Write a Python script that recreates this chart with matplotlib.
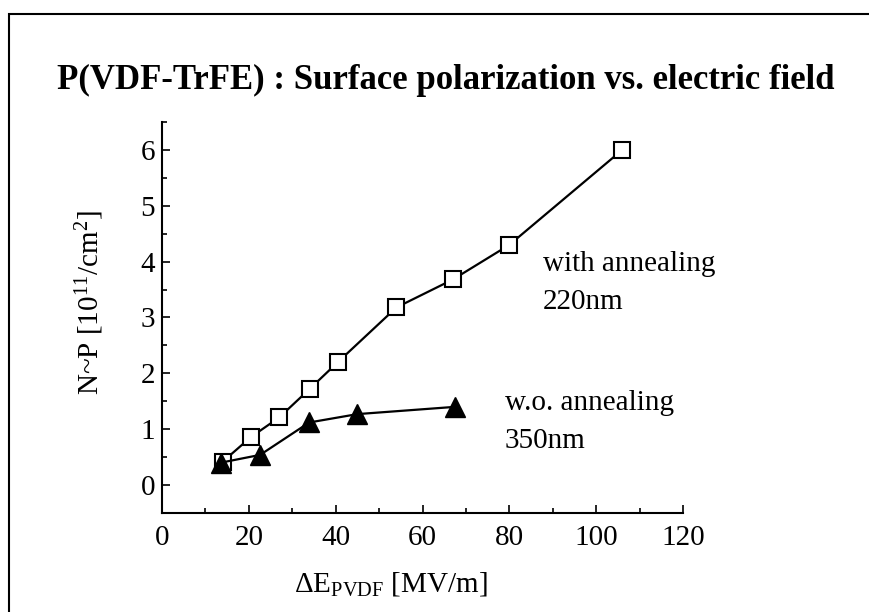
import matplotlib
matplotlib.use("Agg")
import matplotlib.pyplot as plt
from matplotlib.patches import Rectangle
from matplotlib.ticker import MultipleLocator

plt.rcParams["font.family"] = ["Liberation Serif", "DejaVu Serif"]
plt.rcParams["mathtext.fontset"] = "custom"
plt.rcParams["mathtext.rm"] = "Liberation Serif"
plt.rcParams["mathtext.it"] = "Liberation Serif:italic"

# with annealing, 220nm (open squares)
e_ann = [14, 20.5, 27, 34, 40.5, 54, 67, 80, 106]
p_ann = [0.42, 0.86, 1.21, 1.72, 2.2, 3.18, 3.68, 4.3, 6.0]

# w.o. annealing, 350nm (filled triangles)
e_noann = [13.5, 22.6, 33.9, 45, 67.5]
p_noann = [0.4, 0.54, 1.12, 1.27, 1.4]

fig = plt.figure(figsize=(8.69, 6.12), dpi=100)
ax = fig.add_axes([0.1864, 0.1618, 0.5996, 0.6389])

ax.plot(e_ann, p_ann, color="black", lw=1.6, marker="s", ms=12,
        mfc="white", mec="black", mew=1.5, zorder=3)
ax.plot(e_noann, p_noann, color="black", lw=1.6, marker="^", ms=14,
        mfc="black", mec="black", zorder=4)

fs = 21
ax.text(87.8, 3.84, "with annealing", fontsize=fs)
ax.text(87.8, 3.16, "220nm", fontsize=fs)
ax.text(79, 1.34, "w.o. annealing", fontsize=fs)
ax.text(79, 0.66, "350nm", fontsize=fs)

ax.set_xlim(0, 120)
ax.set_ylim(-0.5, 6.5)
ax.xaxis.set_major_locator(MultipleLocator(20))
ax.xaxis.set_minor_locator(MultipleLocator(10))
ax.yaxis.set_major_locator(MultipleLocator(1))
ax.yaxis.set_minor_locator(MultipleLocator(0.5))
ax.set_yticks([0, 1, 2, 3, 4, 5, 6])

for s in ["top", "right"]:
    ax.spines[s].set_visible(False)
for s in ["left", "bottom"]:
    ax.spines[s].set_linewidth(1.5)

ax.tick_params(which="major", direction="in", length=6, width=1.2,
               labelsize=fs, pad=5)
ax.tick_params(axis="x", which="major", pad=9)
ax.tick_params(which="minor", direction="in", length=3.5, width=1.2)

ax.set_xlabel("ΔE$_{\\mathrm{PVDF}}$ [MV/m]", fontsize=fs)
ax.xaxis.set_label_coords(0.44, -0.145)
ax.set_ylabel("N~P [10$^{11}$/cm$^{2}$]", fontsize=fs)
ax.yaxis.set_label_coords(-0.108, 0.537)

fig.text(0.513, 0.868, "P(VDF-TrFE) : Surface polarization vs. electric field",
         fontsize=25, fontweight="bold", ha="center", va="center")

fig.patches.append(Rectangle((9 / 869, -0.2), 1.5, 1.2 - 14 / 612,
                             transform=fig.transFigure, fill=False,
                             lw=1.5, ec="black", clip_on=False))

fig.savefig("out.png", dpi=100)
